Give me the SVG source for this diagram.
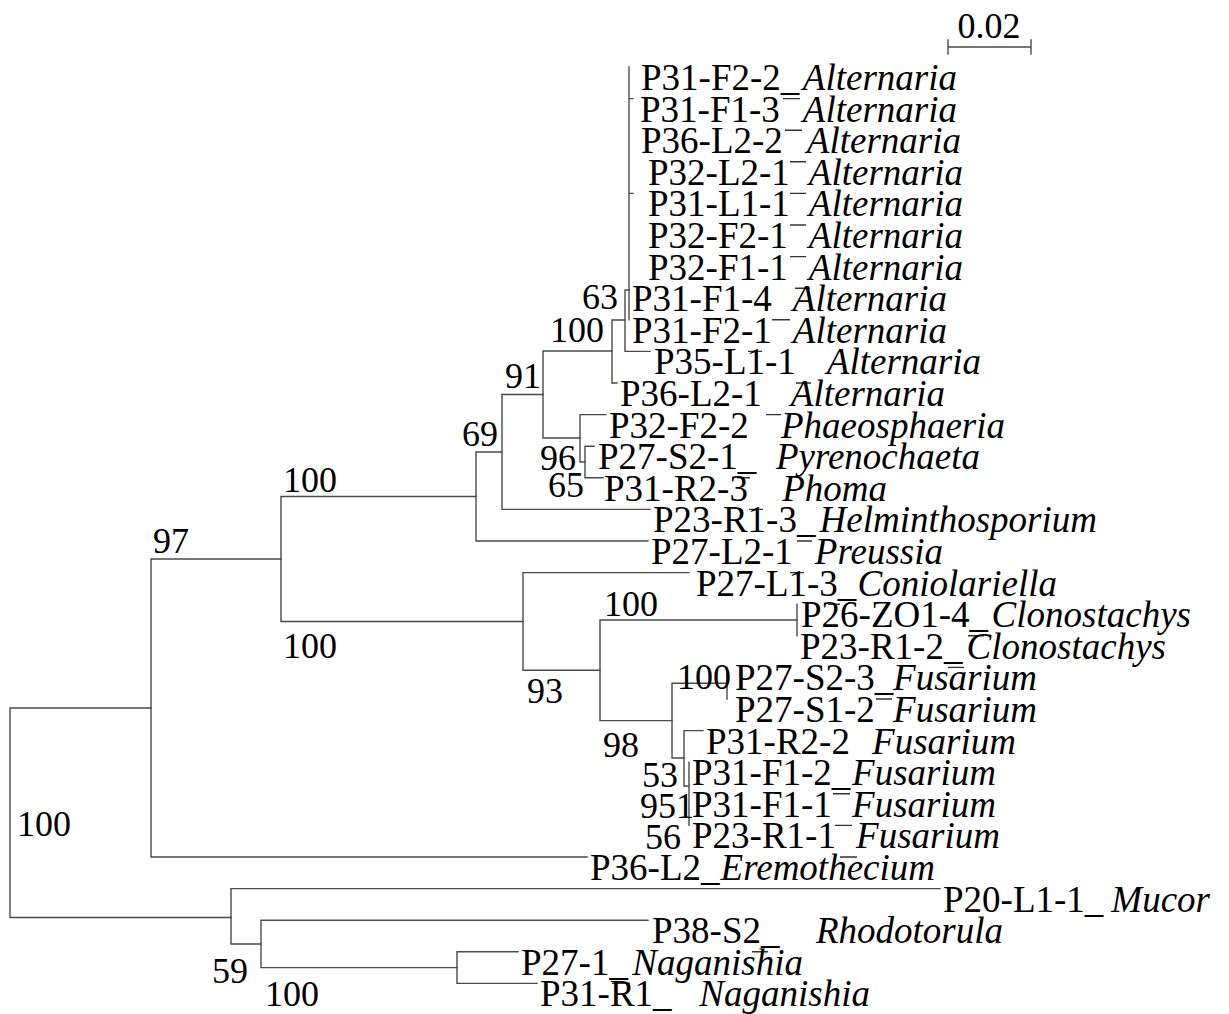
<svg xmlns="http://www.w3.org/2000/svg" width="1229" height="1014" viewBox="0 0 1229 1014">
<style>
.br{stroke:#4a4a4a;stroke-width:1.4;fill:none;stroke-linecap:square}
.tk{stroke:#333;stroke-width:1.4;fill:none}
text{font-family:"Liberation Serif","Times New Roman",serif;fill:#000}
.nm{font-size:37px}
.gn{font-size:37px;font-style:italic;text-anchor:end}
.bs{font-size:36px}
</style>
<rect width="1229" height="1014" fill="#fff"/>
<g id="connectors">
<path class="br" d="M10,708V917.5 M10,708H151 M10,917.5H231"/>
<path class="br" d="M151,559V857 M151,559H281 M151,857H587"/>
<path class="br" d="M281,496.5V621.5 M281,496.5H476 M281,621.5H523"/>
<path class="br" d="M476,452V541 M476,452H502 M476,541H648"/>
<path class="br" d="M502,394.5V509.4 M502,394.5H543 M502,509.4H650"/>
<path class="br" d="M543,351V438 M543,351H612 M543,438H580"/>
<path class="br" d="M612,320V383 M612,320H625 M612,383H617"/>
<path class="br" d="M625,290V351.4 M625,290H629 M625,351.4H650"/>
<path class="br" d="M629,67V319.8 M629,98.6H633 M629,193.4H633"/>
<path class="br" d="M580,414.6V462 M580,414.6H606 M580,462H585"/>
<path class="br" d="M585,446.2V477.8 M585,446.2H594 M585,477.8H603"/>
<path class="br" d="M523,572.6V670.3 M523,572.6H689 M523,670.3H600"/>
<path class="br" d="M600,620V720.6 M600,620H797 M600,720.6H672"/>
<path class="br" d="M797,604.2V635.8"/>
<path class="br" d="M672,683.2V758 M672,683.2H727 M672,758H684"/>
<path class="br" d="M727,667.4V699"/>
<path class="br" d="M684,730.6V786 M684,730.6H703 M684,786H689"/>
<path class="br" d="M689,762.2V825.4"/>
<path class="br" d="M231,888.6V944 M231,888.6H940 M231,944H261"/>
<path class="br" d="M261,920.2V967.6 M261,920.2H648 M261,967.6H457"/>
<path class="br" d="M457,951.8V983.4 M457,951.8H518 M457,983.4H537"/>
<path class="tk" d="M783,98.6H800 M785,130.2H802 M790,161.8H806 M790,193.4H806 M790,225H806 M790,256.6H806 M795,288.2H810 M772,319.8H790 M748,351.4H762 M796,383H811 M766,414.6H781 M737,477.8H750 M749,509.4H763 M797,541H812 M790,572.6H804 M828,604.2H840 M968,635.8H984 M948,667.4H964 M876,699H892 M833,793.8H850 M835,825.4H852 M840,857H857 M752,951.8H768 M612,983.4H630"/>
</g>
<g id="scale">
<path class="br" d="M948,47H1031 M948,40V54 M1031,40V54"/>
<text class="bs" x="989" y="38" text-anchor="middle">0.02</text>
</g>
<g id="leaf1"><text class="nm" x="641" y="90">P31-F2-2_</text><text class="gn" x="957" y="90">Alternaria</text></g>
<g id="leaf2"><text class="nm" x="640" y="121.6">P31-F1-3</text><text class="gn" x="957" y="121.6">Alternaria</text></g>
<g id="leaf3"><text class="nm" x="641" y="153.2">P36-L2-2</text><text class="gn" x="961" y="153.2">Alternaria</text></g>
<g id="leaf4"><text class="nm" x="648" y="184.8">P32-L2-1</text><text class="gn" x="963" y="184.8">Alternaria</text></g>
<g id="leaf5"><text class="nm" x="648" y="216.4">P31-L1-1</text><text class="gn" x="963" y="216.4">Alternaria</text></g>
<g id="leaf6"><text class="nm" x="648" y="248">P32-F2-1</text><text class="gn" x="963" y="248">Alternaria</text></g>
<g id="leaf7"><text class="nm" x="648" y="279.6">P32-F1-1</text><text class="gn" x="963" y="279.6">Alternaria</text></g>
<g id="leaf8"><text class="nm" x="632" y="311.2">P31-F1-4</text><text class="gn" x="947" y="311.2">Alternaria</text></g>
<g id="leaf9"><text class="nm" x="632" y="342.8">P31-F2-1</text><text class="gn" x="947" y="342.8">Alternaria</text></g>
<g id="leaf10"><text class="nm" x="654" y="374.4">P35-L1-1</text><text class="gn" x="981" y="374.4">Alternaria</text></g>
<g id="leaf11"><text class="nm" x="620" y="406">P36-L2-1</text><text class="gn" x="945" y="406">Alternaria</text></g>
<g id="leaf12"><text class="nm" x="609" y="437.6">P32-F2-2</text><text class="gn" x="1005" y="437.6">Phaeosphaeria</text></g>
<g id="leaf13"><text class="nm" x="598" y="469.2">P27-S2-1_</text><text class="gn" x="980" y="469.2">Pyrenochaeta</text></g>
<g id="leaf14"><text class="nm" x="604" y="500.8">P31-R2-3</text><text class="gn" x="887" y="500.8">Phoma</text></g>
<g id="leaf15"><text class="nm" x="653" y="532.4">P23-R1-3_</text><text class="gn" x="1097" y="532.4">Helminthosporium</text></g>
<g id="leaf16"><text class="nm" x="651" y="564">P27-L2-1</text><text class="gn" x="943" y="564">Preussia</text></g>
<g id="leaf17"><text class="nm" x="696" y="595.6">P27-L1-3_</text><text class="gn" x="1057" y="595.6">Coniolariella</text></g>
<g id="leaf18"><text class="nm" x="801" y="627.2">P26-ZO1-4_</text><text class="gn" x="1191" y="627.2">Clonostachys</text></g>
<g id="leaf19"><text class="nm" x="800" y="658.8">P23-R1-2_</text><text class="gn" x="1166" y="658.8">Clonostachys</text></g>
<g id="leaf20"><text class="nm" x="735" y="690.4">P27-S2-3_</text><text class="gn" x="1037" y="690.4">Fusarium</text></g>
<g id="leaf21"><text class="nm" x="735" y="722">P27-S1-2</text><text class="gn" x="1037" y="722">Fusarium</text></g>
<g id="leaf22"><text class="nm" x="706" y="753.6">P31-R2-2</text><text class="gn" x="1016" y="753.6">Fusarium</text></g>
<g id="leaf23"><text class="nm" x="692" y="785.2">P31-F1-2_</text><text class="gn" x="996" y="785.2">Fusarium</text></g>
<g id="leaf24"><text class="nm" x="692" y="816.8">P31-F1-1</text><text class="gn" x="996" y="816.8">Fusarium</text></g>
<g id="leaf25"><text class="nm" x="692" y="848.4">P23-R1-1</text><text class="gn" x="1000" y="848.4">Fusarium</text></g>
<g id="leaf26"><text class="nm" x="590" y="880">P36-L2_</text><text class="gn" x="935" y="880">Eremothecium</text></g>
<g id="leaf27"><text class="nm" x="943" y="911.6">P20-L1-1_</text><text class="gn" x="1210" y="911.6">Mucor</text></g>
<g id="leaf28"><text class="nm" x="652" y="943.2">P38-S2_</text><text class="gn" x="1003" y="943.2">Rhodotorula</text></g>
<g id="leaf29"><text class="nm" x="521" y="974.8">P27-1_</text><text class="gn" x="803" y="974.8">Naganishia</text></g>
<g id="leaf30"><text class="nm" x="540" y="1006.4">P31-R1_</text><text class="gn" x="870" y="1006.4">Naganishia</text></g>
<g id="bootstrap">
<text class="bs" x="582" y="309">63</text>
<text class="bs" x="550" y="342">100</text>
<text class="bs" x="505" y="388">91</text>
<text class="bs" x="462" y="446">69</text>
<text class="bs" x="540" y="470">96</text>
<text class="bs" x="548" y="497">65</text>
<text class="bs" x="283" y="492">100</text>
<text class="bs" x="153" y="553">97</text>
<text class="bs" x="283" y="658">100</text>
<text class="bs" x="604" y="616">100</text>
<text class="bs" x="527" y="703">93</text>
<text class="bs" x="677" y="689">100</text>
<text class="bs" x="603" y="757">98</text>
<text class="bs" x="642" y="787">53</text>
<text class="bs" x="640" y="818">951</text>
<text class="bs" x="645" y="849">56</text>
<text class="bs" x="17" y="836">100</text>
<text class="bs" x="212" y="983">59</text>
<text class="bs" x="265" y="1006">100</text>
</g>
</svg>
